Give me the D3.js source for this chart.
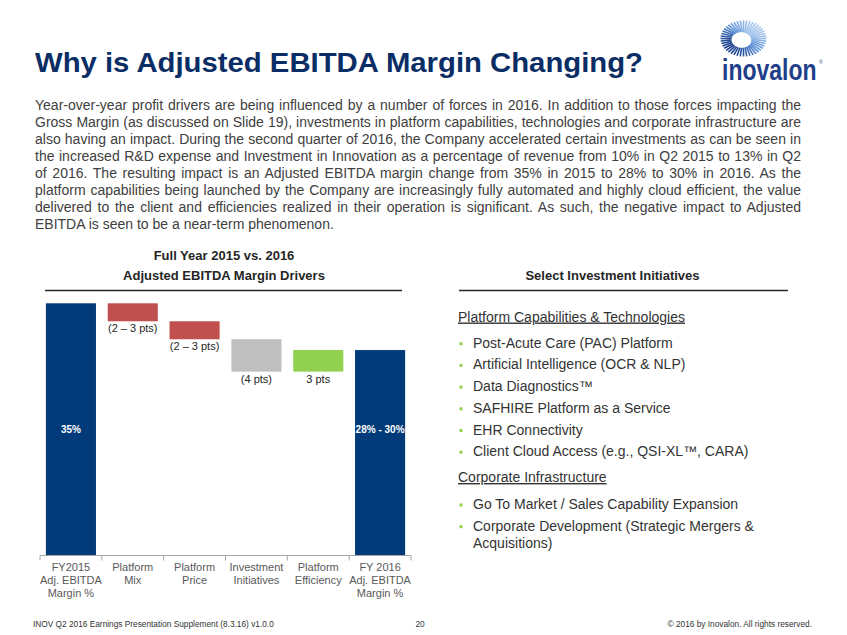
<!DOCTYPE html>
<html>
<head>
<meta charset="utf-8">
<script src="https://cdn.jsdelivr.net/npm/d3@7"></script>
<style>
  html, body { margin: 0; padding: 0; background: #fff; }
  svg { display: block; font-family: "Liberation Sans", Arial, sans-serif; }
</style>
</head>
<body>
<svg id="slide" width="847" height="635"></svg>
<script>
// ---------------- DATA ----------------
const categories = ["FY2015 Adj. EBITDA Margin %", "Platform Mix", "Platform Price", "Investment Initiatives", "Platform Efficiency", "FY 2016 Adj. EBITDA Margin %"];
const categoryLines = [["FY2015", "Adj. EBITDA", "Margin %"], ["Platform", "Mix"], ["Platform", "Price"], ["Investment", "Initiatives"], ["Platform", "Efficiency"], ["FY 2016", "Adj. EBITDA", "Margin %"]];
const barKinds = ["total", "delta", "delta", "delta", "delta", "total"];
const values = [35, -2.5, -2.5, -4.5, 3, 28.5];
const valueLabels = ["35%", "(2 \u2013 3 pts)", "(2 \u2013 3 pts)", "(4 pts)", "3 pts", "28% - 30%"];

const chartTitleLines = ["Full Year 2015 vs. 2016", "Adjusted EBITDA Margin Drivers"];
const pageTitle = "Why is Adjusted EBITDA Margin Changing?";
const paragraphLines = [
  "Year-over-year profit drivers are being influenced by a number of forces in 2016. In addition to those forces impacting the",
  "Gross Margin (as discussed on Slide 19), investments in platform capabilities, technologies and corporate infrastructure are",
  "also having an impact. During the second quarter of 2016, the Company accelerated certain investments as can be seen in",
  "the increased R&D expense and Investment in Innovation as a percentage of revenue from 10% in Q2 2015 to 13% in Q2",
  "of 2016. The resulting impact is an Adjusted EBITDA margin change from 35% in 2015 to 28% to 30% in 2016. As the",
  "platform capabilities being launched by the Company are increasingly fully automated and highly cloud efficient, the value",
  "delivered to the client and efficiencies realized in their operation is significant. As such, the negative impact to Adjusted",
  "EBITDA is seen to be a near-term phenomenon."
];
const panelTitle = "Select Investment Initiatives";
const section1 = "Platform Capabilities & Technologies";
const section1Items = ["Post-Acute Care (PAC) Platform", "Artificial Intelligence (OCR & NLP)", "Data Diagnostics\u2122", "SAFHIRE Platform as a Service", "EHR Connectivity", "Client Cloud Access (e.g., QSI-XL\u2122, CARA)"];
const section2 = "Corporate Infrastructure";
const section2Items = [["Go To Market / Sales Capability Expansion"], ["Corporate Development (Strategic Mergers &", "Acquisitions)"]];
const footerLeft = "INOV Q2 2016 Earnings Presentation Supplement (8.3.16) v1.0.0";
const footerPage = "20";
const footerRight = "\u00A9 2016 by Inovalon. All rights reserved.";

// ---------------- STYLES ----------------
const barColors = ["#023A7A", "#C0504D", "#C0504D", "#BFBFBF", "#92D050", "#023A7A"];
const navy = "#0A2D66";
const textGray = "#404040";

const svg = d3.select("#slide");

// ---------------- TITLE ----------------
svg.append("text").attr("x", 35).attr("y", 72)
  .attr("font-size", 27).attr("font-weight", "bold").attr("fill", navy)
  .attr("textLength", 608).attr("lengthAdjust", "spacingAndGlyphs")
  .text(pageTitle);

// ---------------- LOGO ----------------
const logo = svg.append("g").attr("transform", "translate(743.5,38.5)");
const nTicks = 44;
const tickColor = d3.scaleLinear().domain([0, 0.5, 1]).range(["#1B3F8C", "#5B8FD6", "#A9C8EE"]);
d3.range(nTicks).forEach(i => {
  const a = i / nTicks * 2 * Math.PI;
  const t = (Math.cos(a - 2.4) + 1) / 2;
  const len = 0.45 + 0.25 * (1 - t);
  const rxO = 23, ryO = 18;
  const x1 = Math.cos(a) * rxO * (1 - len), y1 = Math.sin(a) * ryO * (1 - len);
  const x2 = Math.cos(a) * rxO, y2 = Math.sin(a) * ryO;
  logo.append("line").attr("x1", x1).attr("y1", y1).attr("x2", x2).attr("y2", y2)
    .attr("stroke", tickColor(1 - t)).attr("stroke-width", 1.6);
});
svg.append("text").attr("transform", "translate(722,80) scale(1,1.25)")
  .attr("font-size", 23).attr("font-weight", "bold").attr("fill", "#1F3F8A")
  .text("inovalon");
svg.append("text").attr("x", 819).attr("y", 64).attr("font-size", 5).attr("fill", "#1F3F8A").text("\u00AE");

// ---------------- PARAGRAPH (justified) ----------------
const paraX = 35, paraW = 766;
paragraphLines.forEach((line, i) => {
  const t = svg.append("text").attr("x", paraX).attr("y", 110 + i * 17.05)
    .attr("font-size", 14).attr("fill", textGray).attr("xml:space", "preserve").text(line);
  if (i < paragraphLines.length - 1) {
    const w = t.node().getComputedTextLength();
    const spaces = (line.match(/ /g) || []).length;
    if (spaces > 0) t.style("word-spacing", ((paraW - w) / spaces) + "px");
  }
});

// ---------------- CHART ----------------
const chartLeft = 40, chartRight = 411, baseY = 555;
const x = d3.scaleBand().domain(categories).range([chartLeft, chartRight])
  .paddingInner(0.19).paddingOuter(0.095);
const y = d3.scaleLinear().domain([0, 35]).range([baseY, 303.3]);

let running = 0;
const bars = categories.map((c, i) => {
  let lo, hi;
  if (barKinds[i] === "total") { lo = 0; hi = values[i]; running = values[i]; }
  else { const prev = running; running = prev + values[i]; lo = Math.min(prev, running); hi = Math.max(prev, running); }
  return { cat: c, lo, hi, i };
});

chartTitleLines.forEach((l, i) => {
  svg.append("text").attr("x", 224).attr("y", 260 + i * 20)
    .attr("text-anchor", "middle").attr("font-size", 13).attr("font-weight", "bold").attr("fill", "#262626")
    .text(l);
});
svg.append("line").attr("x1", 45).attr("x2", 402).attr("y1", 290.5).attr("y2", 290.5)
  .attr("stroke", "#262626").attr("stroke-width", 1.5);

const g = svg.append("g");
g.selectAll("rect.bar").data(bars).join("rect").attr("class", "bar")
  .attr("x", d => x(d.cat)).attr("width", x.bandwidth())
  .attr("y", d => y(d.hi)).attr("height", d => y(d.lo) - y(d.hi))
  .attr("fill", d => barColors[d.i]);

const axisG = svg.append("g").attr("transform", `translate(0,${baseY})`);
axisG.append("line").attr("x1", chartLeft).attr("x2", chartRight).attr("y1", 0.5).attr("y2", 0.5)
  .attr("stroke", "#A6A6A6").attr("stroke-width", 1);
const step = x.step();
const tickXs = d3.range(categories.length + 1).map(i => chartLeft + i * step);
axisG.selectAll("line.tick").data(tickXs).join("line").attr("class", "tick")
  .attr("x1", d => d).attr("x2", d => d).attr("y1", 0.5).attr("y2", 5.5)
  .attr("stroke", "#A6A6A6").attr("stroke-width", 1);

bars.forEach(d => {
  const t = svg.append("text").attr("text-anchor", "middle").attr("font-size", 11).attr("fill", "#595959");
  categoryLines[d.i].forEach((l, k) => {
    t.append("tspan").attr("x", x(d.cat) + x.bandwidth() / 2).attr("y", 571 + k * 13).text(l);
  });
});

bars.forEach(d => {
  const cx = x(d.cat) + x.bandwidth() / 2;
  if (barKinds[d.i] === "total") {
    svg.append("text").attr("x", cx).attr("y", y(values[0] / 2) + 4)
      .attr("text-anchor", "middle").attr("font-size", 10).attr("font-weight", "bold").attr("fill", "#fff")
      .text(valueLabels[d.i]);
  } else {
    svg.append("text").attr("x", cx).attr("y", y(d.lo) + 11)
      .attr("text-anchor", "middle").attr("font-size", 11).attr("fill", "#262626")
      .text(valueLabels[d.i]);
  }
});

// ---------------- RIGHT PANEL ----------------
svg.append("text").attr("x", 612.5).attr("y", 280).attr("text-anchor", "middle")
  .attr("font-size", 13).attr("font-weight", "bold").attr("fill", "#262626").text(panelTitle);
svg.append("line").attr("x1", 459).attr("x2", 788).attr("y1", 290.5).attr("y2", 290.5)
  .attr("stroke", "#262626").attr("stroke-width", 1.5);

function heading(txt, yy) {
  svg.append("text").attr("x", 458).attr("y", yy).attr("font-size", 14).attr("fill", "#333")
    .attr("text-decoration", "underline").text(txt);
}
function bullet(lines, yy) {
  svg.append("rect").attr("x", 459.5).attr("y", yy - 5.5).attr("width", 3).attr("height", 3).attr("fill", "#92D050");
  lines.forEach((l, k) => {
    svg.append("text").attr("x", 473).attr("y", yy + k * 17).attr("font-size", 14).attr("fill", "#333").text(l);
  });
}
heading(section1, 321.5);
section1Items.forEach((it, i) => bullet([it], 347.7 + i * 21.7));
heading(section2, 482);
section2Items.forEach((it, i) => bullet(it, 509 + i * 21.7));

// ---------------- FOOTER ----------------
svg.append("text").attr("x", 33).attr("y", 627).attr("font-size", 8.3).attr("fill", "#333").text(footerLeft);
svg.append("text").attr("x", 420).attr("y", 627).attr("text-anchor", "middle").attr("font-size", 8.3).attr("fill", "#333").text(footerPage);
svg.append("text").attr("x", 812).attr("y", 627).attr("text-anchor", "end").attr("font-size", 8.3).attr("fill", "#333").text(footerRight);
</script>
</body>
</html>
